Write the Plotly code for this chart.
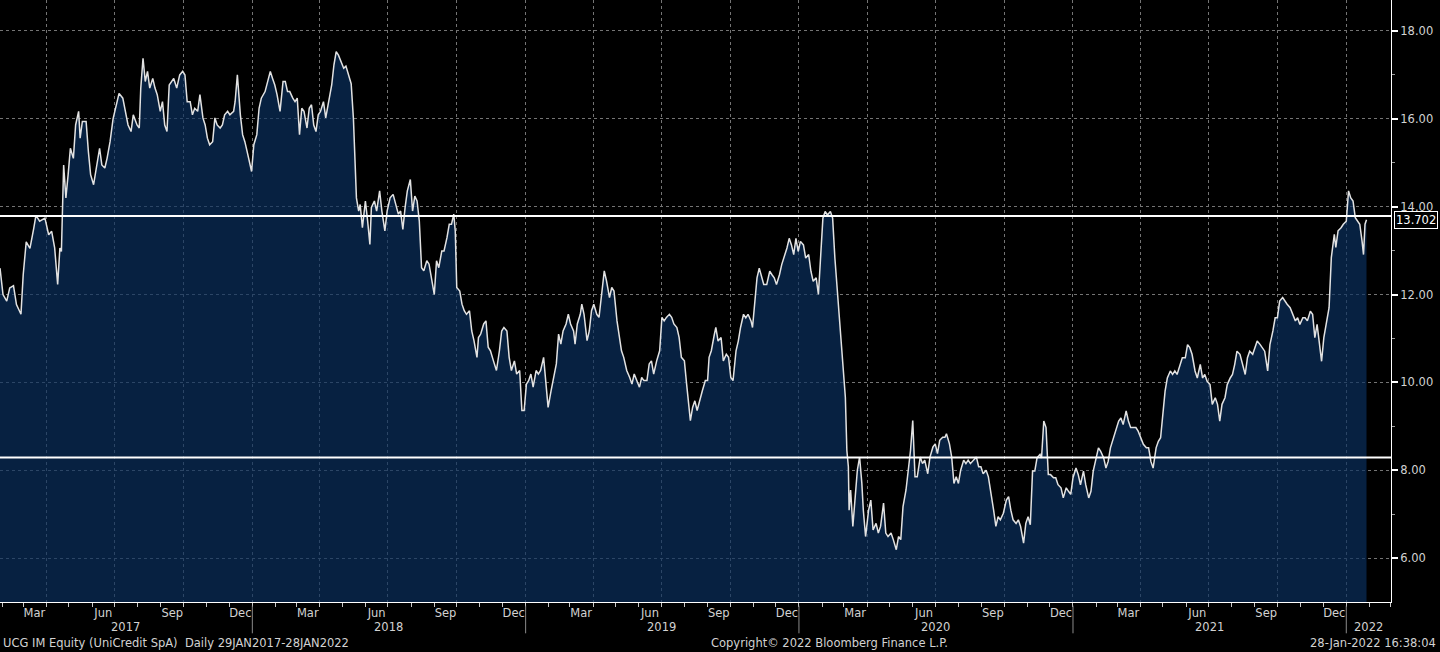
import datetime as dt
import plotly.graph_objects as go

# ---------------- data (day offset from START, price) ----------------
START = dt.date(2017, 1, 29)
X_END = "2022-03-01 17:00"
Y_RANGE = [5.0, 18.705]

LAST_PRICE = 13.702
LAST_PRICE_LABEL = "13.702"
UPPER_LEVEL = 13.79
LOWER_LEVEL = 8.29

seg_2017_18 = [
    (0, 12.6), (4, 12.0), (9, 11.85), (13, 12.15), (18, 12.2), (22, 11.77), (28, 11.55), (31, 12.45),
    (35, 13.2), (40, 13.05), (45, 13.5), (48, 13.8), (53, 13.67), (60, 13.74), (65, 13.36), (69, 13.44),
    (73, 13.06), (77, 12.23), (80, 13.06), (82, 12.98), (85, 14.95), (88, 14.2), (91, 14.73), (94, 15.33),
    (98, 15.1), (101, 15.86), (105, 16.17), (107, 15.56), (110, 15.94), (115, 15.94), (118, 15.26),
    (121, 14.73), (125, 14.5), (129, 14.88), (133, 15.33), (136, 14.95), (140, 14.88), (143, 15.1),
    (147, 15.48), (151, 16.0), (155, 16.32), (159, 16.58), (164, 16.47), (167, 16.17), (171, 15.86),
    (175, 15.71), (178, 16.09), (183, 15.86), (186, 15.79), (188, 16.7), (191, 17.38), (194, 16.85),
    (197, 17.08), (200, 16.7), (204, 16.92), (207, 16.7), (210, 16.55), (214, 16.17), (217, 16.39),
    (220, 15.86), (223, 15.71), (226, 16.77), (229, 16.85), (232, 16.92), (236, 16.7), (240, 17.0),
    (244, 17.08), (247, 17.0), (250, 16.39), (254, 16.39), (257, 16.09), (260, 16.24), (264, 16.17),
    (267, 16.55), (271, 16.02), (274, 15.86), (277, 15.56), (280, 15.41), (284, 15.48), (287, 16.02),
    (290, 15.86), (294, 15.79), (297, 15.86), (300, 16.09), (304, 16.17), (307, 16.09), (312, 16.17),
    (314, 16.39), (317, 17.0), (321, 16.09), (324, 15.64), (327, 15.48), (330, 15.26), (334, 14.95),
    (336, 14.8), (339, 15.41), (343, 15.64), (346, 16.24), (349, 16.47), (354, 16.62), (357, 16.85),
    (361, 17.08), (364, 16.92), (367, 16.77), (370, 16.55), (374, 16.17), (378, 16.85), (381, 16.85),
    (384, 16.62), (387, 16.62), (391, 16.47), (394, 16.39), (397, 16.47), (400, 15.64), (403, 16.24),
    (406, 16.17), (410, 15.79), (413, 16.24), (416, 16.32), (419, 15.86), (422, 15.71), (425, 16.09),
    (428, 16.17), (432, 16.39), (435, 16.02), (438, 16.32), (443, 16.77), (446, 17.23), (449, 17.53),
    (452, 17.45), (455, 17.3), (459, 17.15),
]

seg_2018_19 = [
    (462, 17.2), (466, 17.0), (469, 16.8), (472, 16.0), (476, 14.2), (479, 13.9), (481, 14.05),
    (484, 13.52), (488, 14.13), (491, 13.67), (494, 13.14), (496, 13.98), (500, 14.13), (503, 13.9),
    (507, 14.36), (510, 13.9), (514, 13.45), (517, 13.9), (521, 14.2), (525, 14.28), (529, 13.98),
    (532, 13.83), (535, 13.9), (538, 13.48), (541, 13.98), (544, 14.36), (548, 14.62), (551, 13.9),
    (554, 14.24), (557, 14.13), (560, 13.67), (563, 12.61), (566, 12.54), (570, 12.77), (573, 12.69),
    (577, 12.31), (580, 12.0), (583, 12.77), (586, 12.61), (590, 12.99), (593, 12.99), (597, 13.3),
    (600, 13.6), (603, 13.6), (606, 13.83), (608, 13.45), (610, 12.16), (614, 12.08), (617, 11.78),
    (620, 11.63), (623, 11.55), (627, 11.63), (630, 11.17), (633, 10.95), (637, 10.57), (639, 11.02),
    (642, 11.1), (646, 11.33), (649, 11.4), (652, 10.8), (655, 10.72), (659, 10.49), (663, 10.27),
    (667, 10.72), (670, 11.17), (673, 11.25), (677, 11.17), (680, 10.57), (683, 10.27), (687, 10.49),
    (690, 10.19), (694, 10.27), (697, 9.36), (700, 9.36), (703, 9.96), (706, 10.04), (709, 10.19),
    (712, 9.89), (716, 10.27), (719, 10.19), (722, 10.27), (726, 10.57), (729, 9.96), (732, 9.43),
    (736, 9.81), (739, 10.11), (743, 10.42), (746, 11.1), (749, 10.87), (752, 11.17), (756, 11.33),
    (759, 11.55), (762, 11.33), (766, 11.17), (768, 10.87), (771, 11.33), (775, 11.55), (777, 11.78),
    (780, 11.55), (784, 10.95), (787, 11.17), (790, 11.63), (793, 11.78), (797, 11.55), (800, 11.48),
    (804, 12.08), (807, 12.54), (810, 12.31), (814, 11.93), (817, 12.16), (820, 12.08), (824, 11.4),
    (827, 11.1), (830, 10.72), (833, 10.57), (837, 10.27), (841, 10.11), (844, 9.96), (847, 10.19),
    (850, 10.04), (854, 9.89), (857, 10.11), (860, 10.04), (864, 10.04), (867, 10.42), (870, 10.49),
    (873, 10.19), (877, 10.49), (881, 10.72), (884, 11.48), (887, 11.4), (890, 11.48), (894, 11.55),
    (897, 11.48), (900, 11.33), (904, 11.25), (907, 11.02), (910, 10.57), (914, 10.49), (917, 9.96),
]

seg_2019_20 = [
    (922, 9.13), (925, 9.43), (928, 9.58), (931, 9.36), (935, 9.66), (938, 9.81), (942, 10.04),
    (945, 10.04), (947, 10.57), (950, 10.72), (954, 11.09), (956, 11.25), (959, 10.94), (963, 11.02),
    (966, 10.49), (970, 10.64), (973, 10.57), (976, 10.11), (979, 10.04), (983, 10.72), (986, 10.94),
    (989, 11.25), (993, 11.55), (996, 11.47), (999, 11.55), (1003, 11.4), (1005, 11.25), (1008, 11.85),
    (1011, 12.38), (1014, 12.6), (1017, 12.38), (1020, 12.23), (1024, 12.23), (1028, 12.53),
    (1031, 12.45), (1034, 12.38), (1037, 12.23), (1041, 12.45), (1044, 12.68), (1047, 12.83),
    (1051, 13.06), (1054, 13.28), (1057, 13.13), (1060, 12.91), (1063, 13.28), (1066, 12.98),
    (1069, 13.21), (1073, 13.13), (1076, 12.83), (1080, 12.91), (1083, 12.53), (1086, 12.3),
    (1090, 12.38), (1093, 12.0), (1096, 12.75), (1099, 13.74), (1102, 13.89), (1105, 13.81),
    (1109, 13.89), (1112, 13.74), (1115, 12.83), (1118, 12.15), (1122, 11.32), (1125, 10.57),
    (1129, 9.66), (1131, 8.45), (1133, 8.08), (1134, 7.09), (1136, 7.55), (1139, 6.72), (1142, 7.4),
    (1145, 8.0), (1148, 8.3), (1151, 7.7), (1153, 7.09), (1156, 6.49), (1160, 7.09), (1163, 7.32),
    (1166, 6.64), (1170, 6.79), (1173, 6.57), (1176, 6.72), (1180, 7.25), (1183, 6.57), (1186, 6.49),
    (1190, 6.57), (1193, 6.42), (1197, 6.19), (1200, 6.49), (1203, 6.42), (1206, 7.17), (1210, 7.55),
    (1213, 8.0), (1216, 8.45), (1219, 9.13), (1222, 7.85), (1225, 7.85), (1229, 8.3), (1232, 8.15),
    (1235, 8.23), (1239, 7.92), (1242, 8.3), (1246, 8.53), (1249, 8.6), (1252, 8.38), (1255, 8.68),
    (1259, 8.75), (1262, 8.75), (1264, 8.83), (1268, 8.6), (1271, 8.3), (1274, 7.7), (1277, 7.85),
    (1280, 7.7), (1283, 8.0), (1287, 8.23), (1290, 8.15), (1293, 8.23), (1296, 8.15), (1300, 8.23),
    (1304, 8.3), (1307, 8.08), (1310, 8.08), (1313, 7.92), (1317, 8.0), (1320, 7.85), (1323, 7.55),
    (1327, 7.09), (1330, 6.72), (1333, 6.94), (1336, 6.87), (1340, 7.02), (1344, 7.32), (1347, 7.4),
    (1350, 7.09), (1353, 6.87), (1357, 6.79), (1360, 6.87), (1363, 6.72), (1367, 6.34), (1370, 6.79),
    (1373, 6.94),
]

seg_2020_22 = [
    (1376, 6.76), (1379, 7.98), (1382, 7.98), (1385, 8.28), (1389, 8.36), (1391, 8.28), (1394, 9.12),
    (1397, 8.97), (1400, 7.9), (1403, 7.9), (1407, 7.83), (1410, 7.83), (1413, 7.67), (1417, 7.6),
    (1420, 7.37), (1424, 7.6), (1427, 7.52), (1430, 7.45), (1433, 7.83), (1437, 8.05), (1440, 7.9),
    (1443, 7.67), (1447, 7.98), (1450, 7.67), (1454, 7.37), (1457, 7.52), (1460, 7.98), (1464, 8.28),
    (1467, 8.51), (1470, 8.43), (1474, 8.28), (1477, 8.05), (1480, 8.2), (1483, 8.51), (1487, 8.74),
    (1490, 8.89), (1494, 9.12), (1497, 9.19), (1500, 9.04), (1504, 9.35), (1507, 9.12), (1510, 8.97),
    (1514, 8.97), (1517, 8.97), (1520, 8.89), (1523, 8.74), (1527, 8.59), (1531, 8.51), (1534, 8.51),
    (1537, 8.2), (1540, 8.05), (1544, 8.51), (1547, 8.66), (1550, 8.74), (1554, 9.35), (1556, 9.8),
    (1559, 10.1), (1563, 10.26), (1566, 10.18), (1569, 10.26), (1572, 10.18), (1576, 10.41),
    (1579, 10.56), (1583, 10.56), (1586, 10.86), (1589, 10.79), (1592, 10.64), (1596, 10.26),
    (1599, 10.1), (1603, 10.41), (1606, 10.1), (1609, 10.18), (1612, 10.03), (1616, 9.95), (1619, 9.5),
    (1623, 9.65), (1626, 9.5), (1629, 9.12), (1632, 9.5), (1636, 9.65), (1639, 9.95), (1643, 10.1),
    (1646, 10.18), (1649, 10.41), (1652, 10.71), (1656, 10.64), (1659, 10.41), (1663, 10.18),
    (1666, 10.56), (1669, 10.71), (1673, 10.64), (1676, 10.79), (1679, 10.94), (1683, 10.86),
    (1686, 10.79), (1689, 10.71), (1693, 10.26), (1696, 10.86), (1700, 11.17), (1703, 11.47),
    (1706, 11.47), (1709, 11.85), (1713, 11.93), (1716, 11.85), (1719, 11.78), (1723, 11.7),
    (1726, 11.55), (1730, 11.4), (1733, 11.47), (1736, 11.32), (1740, 11.47), (1743, 11.47),
    (1746, 11.4), (1750, 11.62), (1753, 11.55), (1756, 11.02), (1759, 11.32), (1762, 10.94),
    (1765, 10.48), (1768, 11.02), (1772, 11.4), (1775, 11.7), (1778, 12.84), (1782, 13.37),
    (1784, 13.07), (1787, 13.45), (1791, 13.52), (1794, 13.6), (1798, 13.67), (1801, 14.36),
    (1804, 14.2), (1807, 14.13), (1810, 13.75), (1813, 13.67), (1816, 13.6), (1819, 13.22),
    (1821, 12.91), (1823, 13.6), (1825, LAST_PRICE),
]

# ---------------- axis text ----------------
y_tick_values = [6, 8, 10, 12, 14, 16, 18]
y_tick_text = ["6.00", "8.00", "10.00", "12.00", "14.00", "16.00", "18.00"]
y_minor_values = [7, 9, 11, 13, 15, 17]
label_years = [2017, 2018, 2019, 2020, 2021]
label_months = [3, 6, 9, 12]
label_month_names = ["Mar", "Jun", "Sep", "Dec"]
year_names = [2017, 2018, 2019, 2020, 2021, 2022]

footer_left = "UCG IM Equity (UniCredit SpA)\u00a0 Daily 29JAN2017-28JAN2022"
footer_mid = "Copyright\u00a9 2022 Bloomberg Finance L.P."
footer_right = "28-Jan-2022 16:38:04"

# ---------------- build ----------------
series = seg_2017_18 + seg_2018_19 + seg_2019_20 + seg_2020_22
dates = [START + dt.timedelta(days=d) for d, _ in series]
prices = [p for _, p in series]

x_start = START.isoformat()
x_end_date = dt.date(2022, 3, 1)

month_tick_vals = [f"{y}-{m:02d}-16" for y in label_years for m in label_months]
month_tick_text = [n for _ in label_years for n in label_month_names]

month_starts = []
for y in range(2017, 2023):
    for m in range(1, 13):
        d = dt.date(y, m, 1)
        if START < d <= x_end_date:
            month_starts.append(d.isoformat())
quarter_starts = [d for d in month_starts if int(d[5:7]) in (1, 4, 7, 10)]
jan_firsts = [d for d in month_starts if d[5:7] == "01"]

FONT = "DejaVu Sans"
FS = 11.5
LABEL = "#d2d2d2"
GRID = "#747474"
BG = "#000000"

fig = go.Figure()
fig.add_trace(go.Scatter(
    x=dates, y=prices, mode="lines", line=dict(width=0, color="rgba(0,0,0,0)"),
    fill="tozeroy", fillcolor="rgba(11,48,96,0.68)", hoverinfo="skip",
    xaxis="x", yaxis="y", showlegend=False,
))
fig.add_trace(go.Scatter(
    x=dates, y=prices, mode="lines", line=dict(color="#e2e2e2", width=1.5),
    xaxis="x2", yaxis="y", showlegend=False,
))

shapes = []
for lvl in (UPPER_LEVEL, LOWER_LEVEL):
    shapes.append(dict(type="line", xref="paper", x0=0, x1=1, yref="y", y0=lvl, y1=lvl,
                       line=dict(color="white", width=2), layer="above"))
for d in jan_firsts:
    shapes.append(dict(type="line", xref="x", x0=d, x1=d, yref="paper", y0=-0.006, y1=-0.052,
                       line=dict(color="#8a8a8a", width=1)))

annotations = []
for y in year_names:
    a = max(dt.date(y, 1, 1), START)
    b = min(dt.date(y, 12, 31), x_end_date)
    mid = a + (b - a) / 2
    annotations.append(dict(text=str(y), x=mid.isoformat(), xref="x", y=0, yref="paper",
                            yanchor="middle", yshift=-25, showarrow=False,
                            font=dict(family=FONT, size=FS, color=LABEL)))
annotations += [
    dict(text=footer_left, x=0, xref="paper", xanchor="left", xshift=1, y=0, yref="paper",
         yanchor="middle", yshift=-41, showarrow=False, font=dict(family=FONT, size=FS, color=LABEL)),
    dict(text=footer_mid, x=0.596, xref="paper", xanchor="center", y=0, yref="paper",
         yanchor="middle", yshift=-41, showarrow=False, font=dict(family=FONT, size=FS, color=LABEL)),
    dict(text=footer_right, x=1, xref="paper", xanchor="right", xshift=47, y=0, yref="paper",
         yanchor="middle", yshift=-41, showarrow=False, font=dict(family=FONT, size=FS, color=LABEL)),
    dict(text=LAST_PRICE_LABEL, x=1, xref="paper", xanchor="left", xshift=3, y=LAST_PRICE, yref="y",
         yanchor="middle", showarrow=False, bgcolor="black", bordercolor="white", borderwidth=1,
         borderpad=1, font=dict(family=FONT, size=FS, color="white")),
]

fig.update_layout(
    template="none",
    width=1440, height=652,
    margin=dict(l=0, r=49, t=0, b=50, pad=0),
    paper_bgcolor=BG, plot_bgcolor=BG,
    showlegend=False,
    xaxis=dict(
        type="date", range=[x_start, X_END], showgrid=False, zeroline=False,
        showline=True, linecolor="white", linewidth=1, automargin=False,
        tickmode="array", tickvals=month_tick_vals, ticktext=month_tick_text, ticks="",
        tickfont=dict(family=FONT, size=FS, color=LABEL),
        minor=dict(tickmode="array", tickvals=month_starts, ticks="outside", ticklen=4,
                   tickcolor="#c8c8c8", tickwidth=1, showgrid=False),
    ),
    xaxis2=dict(
        type="date", range=[x_start, X_END], overlaying="x", side="bottom",
        showgrid=True, gridcolor=GRID, griddash="dot", gridwidth=1,
        tickmode="array", tickvals=quarter_starts, showticklabels=False, ticks="",
        showline=False, zeroline=False, automargin=False,
    ),
    yaxis=dict(
        side="right", range=Y_RANGE, zeroline=False, automargin=False,
        tickmode="array", tickvals=y_tick_values, ticktext=y_tick_text,
        ticks="outside", ticklen=6, tickwidth=2, tickcolor="white",
        showgrid=True, gridcolor=GRID, griddash="dot", gridwidth=1,
        showline=True, linecolor="white", linewidth=1,
        tickfont=dict(family=FONT, size=FS, color=LABEL),
        minor=dict(tickmode="array", tickvals=y_minor_values, ticks="outside", ticklen=3,
                   tickcolor="#9a9a9a", tickwidth=1, showgrid=False),
    ),
    shapes=shapes,
    annotations=annotations,
)

fig.write_html("out.html")
